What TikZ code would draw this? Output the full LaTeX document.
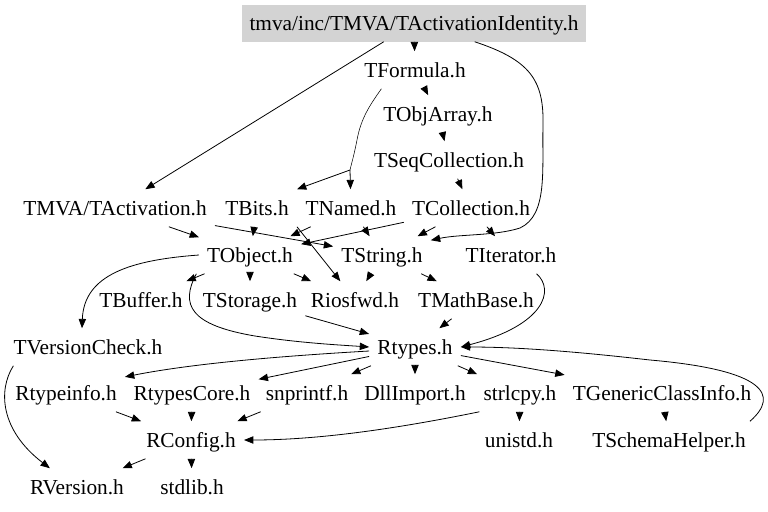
\documentclass[tikz,border=0pt]{standalone}
\usepackage{fontspec}
\setmainfont{Liberation Serif}
\usetikzlibrary{arrows.meta}
\definecolor{rootgray}{RGB}{211,211,211}
\begin{document}
\begin{tikzpicture}[x=0.75pt,y=-0.75pt,
    hdr/.style={inner xsep=6pt,inner ysep=0pt,text height=12pt,text depth=1.4pt,minimum height=27.75pt,font=\fontsize{16}{19}\selectfont},
    edge/.style={-{Triangle[length=7pt,width=5.5pt]},line width=0.6pt}]
  \useasboundingbox (0,0) rectangle (768,511);
  \node[hdr,fill=rootgray] (TActId) at (414,23) {tmva/inc/TMVA/TActivationIdentity.h};
  \node[hdr] (TFormula) at (415,70) {TFormula.h};
  \node[hdr] (TObjArray) at (438,114) {TObjArray.h};
  \node[hdr] (TSeqCollection) at (449,160) {TSeqCollection.h};
  \node[hdr] (TActivation) at (115,208) {TMVA/TActivation.h};
  \node[hdr] (TBits) at (257,208) {TBits.h};
  \node[hdr] (TNamed) at (351,208) {TNamed.h};
  \node[hdr] (TCollection) at (471,208) {TCollection.h};
  \node[hdr] (TObject) at (250,255) {TObject.h};
  \node[hdr] (TString) at (382,255) {TString.h};
  \node[hdr] (TIterator) at (511,255) {TIterator.h};
  \node[hdr] (TBuffer) at (141,300) {TBuffer.h};
  \node[hdr] (TStorage) at (250,300) {TStorage.h};
  \node[hdr] (Riosfwd) at (355,300) {Riosfwd.h};
  \node[hdr] (TMathBase) at (476,300) {TMathBase.h};
  \node[hdr] (TVersionCheck) at (88,347) {TVersionCheck.h};
  \node[hdr] (Rtypes) at (415,347) {Rtypes.h};
  \node[hdr] (Rtypeinfo) at (66,393) {Rtypeinfo.h};
  \node[hdr] (RtypesCore) at (192,393) {RtypesCore.h};
  \node[hdr] (snprintf) at (307,393) {snprintf.h};
  \node[hdr] (DllImport) at (415,393) {DllImport.h};
  \node[hdr] (strlcpy) at (520,393) {strlcpy.h};
  \node[hdr] (TGenericClassInfo) at (662,393) {TGenericClassInfo.h};
  \node[hdr] (RConfig) at (191,440) {RConfig.h};
  \node[hdr] (unistd) at (519,440) {unistd.h};
  \node[hdr] (TSchemaHelper) at (669,440) {TSchemaHelper.h};
  \node[hdr] (RVersion) at (77,487) {RVersion.h};
  \node[hdr] (stdlib) at (192,487) {stdlib.h};

  \draw[edge] (TActId) -- (TFormula);
  \draw[edge] (TActId) -- (TActivation);
  \draw[edge] ([xshift=-84pt]TActId.south east) .. controls (530,60) and (544,80) .. (543,125)
      .. controls (542,170) and (548,215) .. (520,228) .. controls (495,236) and (460,234) .. ([yshift=-3pt]TString.north east);
  \draw[edge] (TFormula) -- (TObjArray);
  \draw ([xshift=19pt]TFormula.south west) .. controls (370,105) and (361,118) .. (357,140)
      .. controls (353,160) and (351,165) .. (350,170) coordinate (split);
  \draw[edge] (split) -- (TBits.north east);
  \draw[edge] (split) -- (TNamed);
  \draw[edge] (TObjArray) -- (TSeqCollection);
  \draw[edge] (TSeqCollection) -- (TCollection);
  \draw[edge] (TActivation) -- (TObject);
  \draw[edge] (TActivation) -- (TString);
  \draw[edge] (TBits) -- (TObject);
  \draw[edge] (TBits.south east) -- ([xshift=-11pt]Riosfwd.north);
  \draw[edge] (TNamed) -- (TObject);
  \draw[edge] (TNamed) -- (TString);
  \draw[edge] (TCollection) -- (TObject);
  \draw[edge] (TCollection) -- (TString);
  \draw[edge] (TCollection) -- (TIterator);
  \draw[edge] (TObject) -- (TBuffer);
  \draw[edge] (TObject) -- (TStorage);
  \draw[edge] (TObject) -- (Riosfwd);
  \draw[edge] (TObject.west) .. controls (130,260) and (84,275) .. ([xshift=-4.5pt]TVersionCheck.north);
  \draw[edge] ([xshift=-2pt]TObject.south west) .. controls (180,305) and (190,325) .. (255,336)
      .. controls (300,343) and (340,345) .. (Rtypes.west);
  \draw[edge] (TString) -- (Riosfwd);
  \draw[edge] (TString) -- (TMathBase);
  \draw[edge] ([xshift=-21pt]TIterator.south east) .. controls (555,290) and (545,325) .. (Rtypes.east);
  \draw[edge] (TStorage) -- (Rtypes);
  \draw[edge] (TMathBase) -- (Rtypes);
  \draw[edge] ([xshift=6pt]TVersionCheck.south west) .. controls (-2,390) and (0,430) .. ([xshift=21pt]RVersion.north west);
  \draw[edge] ([yshift=-3pt]Rtypes.west) .. controls (300,355) and (200,362) .. ([yshift=-2pt]Rtypeinfo.north east);
  \draw[edge] (Rtypes) -- (RtypesCore);
  \draw[edge] (Rtypes) -- (snprintf);
  \draw[edge] (Rtypes) -- (DllImport);
  \draw[edge] (Rtypes) -- (strlcpy);
  \draw[edge] (Rtypes) -- (TGenericClassInfo);
  \draw[edge] ([xshift=-3pt]TSchemaHelper.north east) .. controls (780,395) and (765,370) .. (650,360)
      .. controls (580,352) and (520,347) .. (Rtypes.east);
  \draw[edge] (Rtypeinfo) -- (RConfig);
  \draw[edge] (RtypesCore) -- (RConfig);
  \draw[edge] (snprintf) -- (RConfig);
  \draw[edge] ([xshift=3pt]strlcpy.south west) .. controls (400,428) and (320,440) .. (RConfig.east);
  \draw[edge] (strlcpy) -- (unistd);
  \draw[edge] (TGenericClassInfo) -- (TSchemaHelper);
  \draw[edge] (RConfig) -- (RVersion);
  \draw[edge] (RConfig) -- (stdlib);
\end{tikzpicture}
\end{document}
